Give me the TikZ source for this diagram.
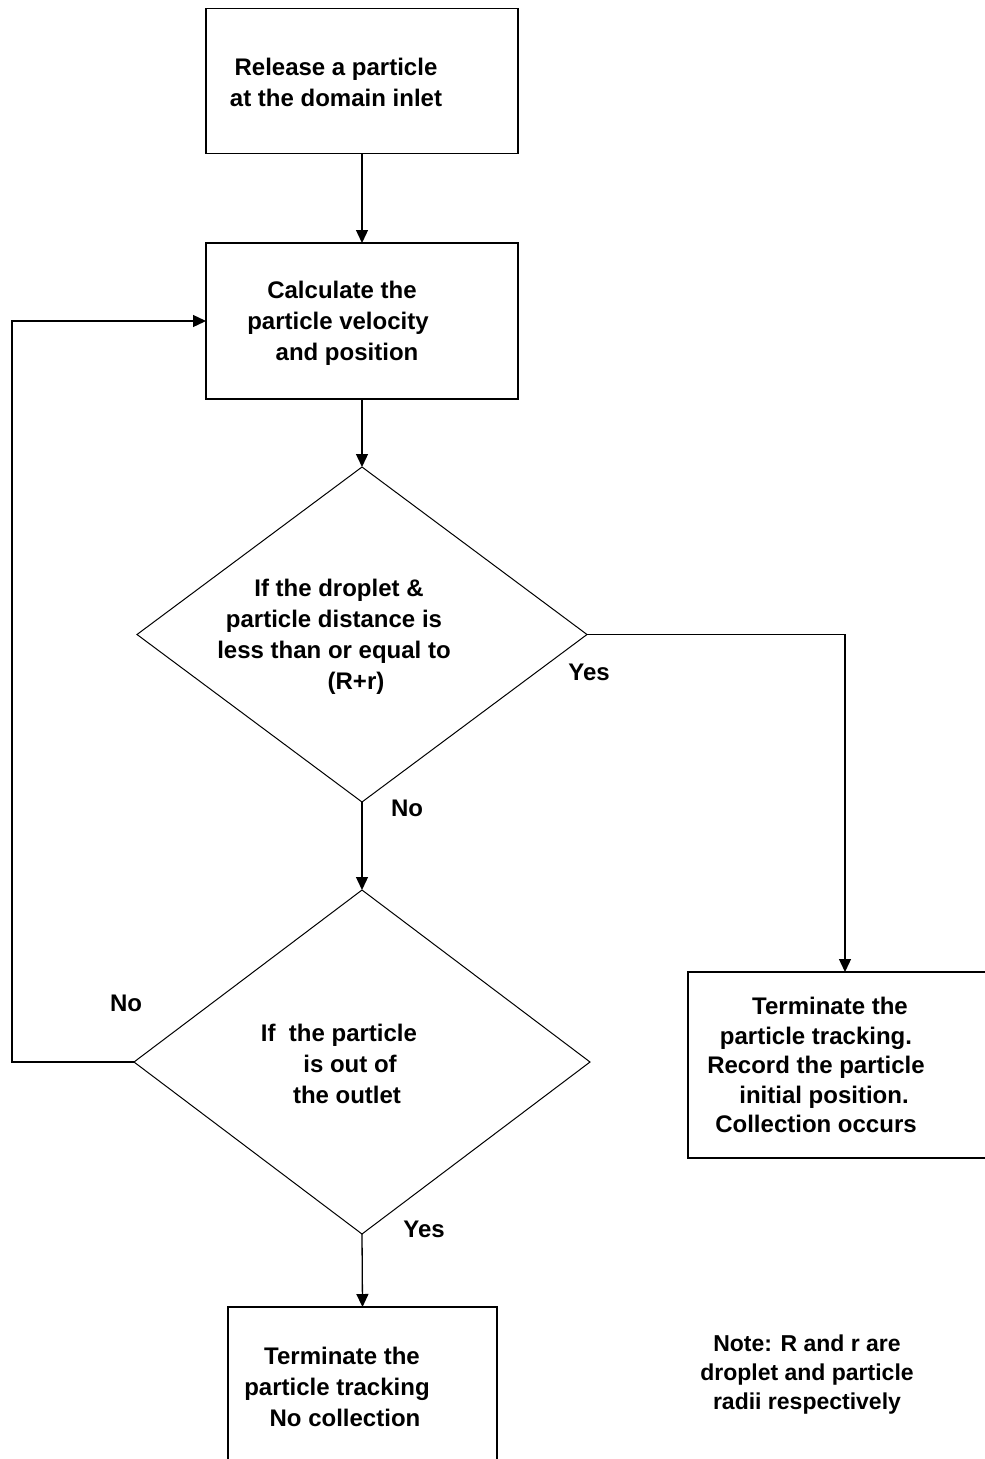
\documentclass[tikz,border=0pt]{standalone}
\usepackage{fontspec}
\setmainfont{Liberation Sans}
\usepackage{tikz}
\usetikzlibrary{shapes.geometric,arrows.meta,positioning}

\begin{document}
\begin{tikzpicture}[x=1pt,y=-1pt,
        box/.style = {draw, rectangle, line width=1.3pt, inner sep=0pt, outer sep=0pt},
        decision/.style = {draw, diamond, line width=1pt, inner sep=0pt, outer sep=0pt},
        txt/.style = {align=center, inner sep=0pt, font=\fontsize{24}{31}\selectfont\bfseries},
        lbl/.style = {inner sep=0pt, font=\fontsize{24}{31}\selectfont\bfseries},
        flow/.style = {line width=1.3pt, -{Triangle[length=13pt,width=12pt]}},]
        \useasboundingbox (0,0) rectangle (985,1459);
        \clip (0,0) rectangle (985,1459);
        \fill[white] (0,0) rectangle (985,1459);

        % boxes and decisions
        \node[box, minimum width=312pt, minimum height=145pt] (inlet) at (362,81) {};
        \node[box, minimum width=312pt, minimum height=156pt] (calc) at (362,321) {};
        \node[decision, minimum width=450pt, minimum height=335pt] (dist) at (362,634.5) {};
        \node[decision, minimum width=456pt, minimum height=344pt] (outlet) at (362,1062) {};
        \node[box, minimum width=320pt, minimum height=186pt] (collect) at (848,1065) {};
        \node[box, minimum width=269pt, minimum height=200pt] (nocollect) at (362.5,1407) {};

        % texts
        \node[txt] (tinlet) at (336,82.5) {Release a particle\\at the domain inlet};
        \node[txt] (tcalc) at (338,323) {\hspace*{8pt}Calculate the\\particle velocity\\\hspace*{18pt}and position};
        \node[txt] (tdist) at (334,637) {\hspace*{10pt}If the droplet \&\\particle distance is\\less than or equal to\\\hspace*{44pt}(R+r)};
        \node[txt] (toutlet) at (339,1064) {If~ the particle\\\hspace*{22pt}is out of\\\hspace*{16pt}the outlet};
        \node[txt, font=\fontsize{24}{29.5}\selectfont\bfseries] (tcollect) at (816,1065) {\hspace*{28pt}Terminate the\\particle tracking.\\Record the particle\\\hspace*{16pt}initial position.\\Collection occurs};
        \node[txt] (tnocollect) at (337,1387) {\hspace*{10pt}Terminate the\\particle tracking\\\hspace*{16pt}No collection};
        \node[txt, font=\fontsize{23}{29}\selectfont\bfseries] (note) at (807,1375) {Note: R and r are\\droplet and particle\\radii respectively};

        % branch labels
        \node[lbl] (yes1) at (589,672) {Yes};
        \node[lbl] (no1) at (407,808) {No};
        \node[lbl] (no2) at (126,1003) {No};
        \node[lbl] (yes2) at (424,1229) {Yes};

        % connectors
        \coordinate (hit) at (845,634.5);
        \coordinate (back) at (12,1062);
        \draw[flow] (inlet.south) -- (calc.north);
        \draw[flow] (calc.south) -- (dist.north);
        \draw[flow] (dist.south) -- (outlet.north);
        \draw[flow] (dist.east) -- (hit) -- (hit |- collect.north);
        \draw[flow] (outlet.west) -- (back) |- (calc.west);
        \draw[flow] (outlet.south) -- (nocollect.north);
    \end{tikzpicture}
\end{document}
